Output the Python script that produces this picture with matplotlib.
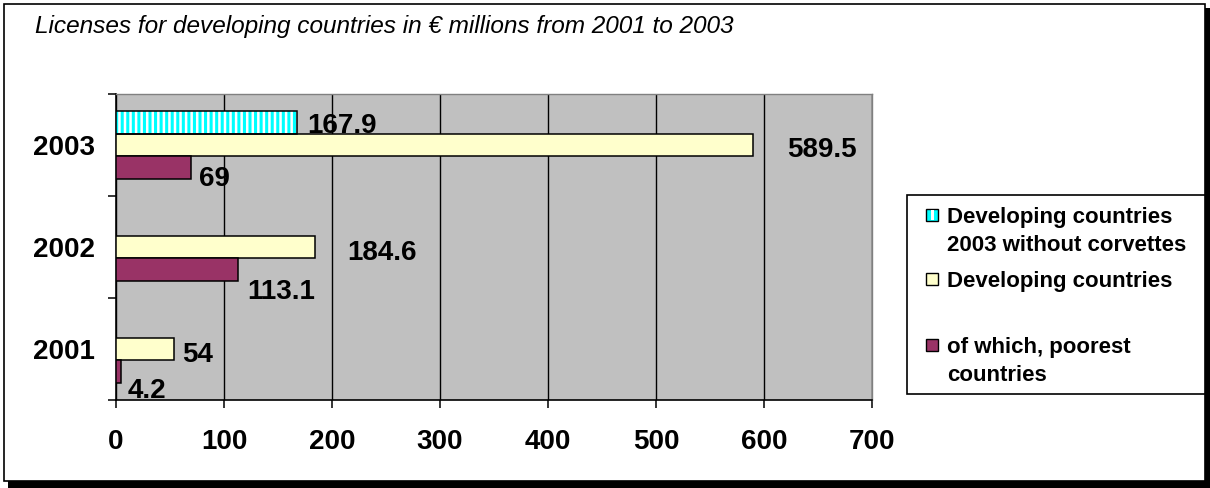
import matplotlib
matplotlib.use("Agg")
import matplotlib.pyplot as plt
from matplotlib.patches import Rectangle

plt.rcParams['font.family'] = ['Liberation Sans', 'DejaVu Sans']
plt.rcParams['hatch.linewidth'] = 1.8

# ---- data ----
years = ["2001", "2002", "2003"]
dev_without_corvettes = [None, None, 167.9]
developing = [54, 184.6, 589.5]
poorest = [4.2, 113.1, 69]
series_names = ["Developing countries\n2003 without corvettes",
                "Developing countries",
                "of which, poorest\ncountries"]
title = "Licenses for developing countries in \u20ac millions from 2001 to 2003"
xticks = [0, 100, 200, 300, 400, 500, 600, 700]

# label offsets (pixels): (dx from bar end, dy downward from bar centre)
off_cyan = [None, None, (10, 0.5)]
off_yel = [(8, 3.5), (32, 3.5), (34, 2)]
off_pur = [(7.5, 16), (9, 19), (8, 8)]

CYAN = "#00FFFF"
YELLOW = "#FFFFCC"
PURPLE = "#993366"
GREY = "#C0C0C0"

W, H = 1210, 488
fig = plt.figure(figsize=(W / 100, H / 100), dpi=100)
fx = lambda px: px / W
fy = lambda py: 1 - py / H

# outer frame with shadow
fig.patches.append(Rectangle((fx(8), fy(488)), fx(1210) - fx(8), fy(8) - fy(488),
                             transform=fig.transFigure, facecolor="black",
                             edgecolor="none", zorder=-20))
fig.patches.append(Rectangle((fx(3.5), fy(481)), fx(1205) - fx(3.5), fy(3.5) - fy(481),
                             transform=fig.transFigure, facecolor="white",
                             edgecolor="black", linewidth=1.2, zorder=-19))

ax = fig.add_axes([fx(116), fy(400), fx(872) - fx(116), fy(94) - fy(400)])
ax.set_facecolor(GREY)

bh = 1 / 4.5
ypos = list(range(len(years)))
px2pt = 0.72

for i, y in enumerate(ypos):
    v = dev_without_corvettes[i]
    if v is not None:
        ax.barh(y + bh, v, height=bh, color=CYAN, edgecolor="white",
                hatch="|||", linewidth=0, zorder=3)
        ax.barh(y + bh, v, height=bh, fill=False, edgecolor="black",
                linewidth=1.1, zorder=4)
        dx, dy = off_cyan[i]
        ax.annotate(f"{v:g}", xy=(v, y + bh), xytext=(dx * px2pt, -dy * px2pt),
                    textcoords="offset points", ha="left", va="center_baseline",
                    fontsize=20, fontweight="bold", zorder=6)
    v = developing[i]
    ax.barh(y, v, height=bh, color=YELLOW, edgecolor="black", linewidth=1.1, zorder=3)
    dx, dy = off_yel[i]
    ax.annotate(f"{v:g}", xy=(v, y), xytext=(dx * px2pt, -dy * px2pt),
                textcoords="offset points", ha="left", va="center_baseline",
                fontsize=20, fontweight="bold", zorder=6)
    v = poorest[i]
    ax.barh(y - bh, v, height=bh, color=PURPLE, edgecolor="black", linewidth=1.1, zorder=3)
    dx, dy = off_pur[i]
    ax.annotate(f"{v:g}", xy=(v, y - bh), xytext=(dx * px2pt, -dy * px2pt),
                textcoords="offset points", ha="left", va="center_baseline",
                fontsize=20, fontweight="bold", zorder=6)

ax.set_xlim(0, 700)
ax.set_ylim(-0.5, len(years) - 0.5)
ax.set_xticks(xticks)
ax.set_xticklabels([str(t) for t in xticks], fontsize=20, fontweight="bold")
ax.set_yticks(ypos)
ax.set_yticklabels(years, fontsize=20, fontweight="bold")
ax.set_yticks([y - 0.5 for y in ypos] + [len(years) - 0.5], minor=True)
ax.tick_params(axis="y", which="major", length=0, pad=15)
ax.tick_params(axis="y", which="minor", length=6, width=1.1, direction="out")
ax.tick_params(axis="x", which="major", length=6, width=1.1, direction="out", pad=15)
ax.grid(axis="x", color="black", linewidth=1.0, zorder=1)
ax.set_axisbelow(True)
for s in ["left", "bottom"]:
    ax.spines[s].set_color("black")
    ax.spines[s].set_linewidth(1.2)
for s in ["top", "right"]:
    ax.spines[s].set_color("#808080")
    ax.spines[s].set_linewidth(1.0)

# title
fig.text(fx(35), fy(27), title, fontsize=17.6, fontstyle="italic",
         ha="left", va="center")

# legend (manual, Excel style)
fig.patches.append(Rectangle((fx(907), fy(394)), fx(1205) - fx(907), fy(195) - fy(394),
                             transform=fig.transFigure, facecolor="white",
                             edgecolor="black", linewidth=1.2, zorder=-5))
marker_y = [215, 279, 345]
line_gap = 28
colors = [CYAN, YELLOW, PURPLE]
ms = 12
for k, name in enumerate(series_names):
    cy = marker_y[k]
    fig.patches.append(Rectangle((fx(926), fy(cy + ms / 2)), fx(926 + ms) - fx(926),
                                 fy(cy - ms / 2) - fy(cy + ms / 2),
                                 transform=fig.transFigure, facecolor=colors[k],
                                 edgecolor="black", linewidth=1.0, zorder=2))
    if k == 0:
        fig.patches.append(Rectangle((fx(926 + ms / 2 - 1.5), fy(cy + ms / 2 - 1)),
                                     fx(3) - fx(0), fy(cy - ms / 2 + 1) - fy(cy + ms / 2 - 1),
                                     transform=fig.transFigure, facecolor="white",
                                     edgecolor="none", zorder=3))
    for j, line in enumerate(name.split("\n")):
        fig.text(fx(947), fy(cy + j * line_gap), line, fontsize=16,
                 fontweight="bold", ha="left", va="center_baseline")

fig.savefig("out.png", dpi=100)
